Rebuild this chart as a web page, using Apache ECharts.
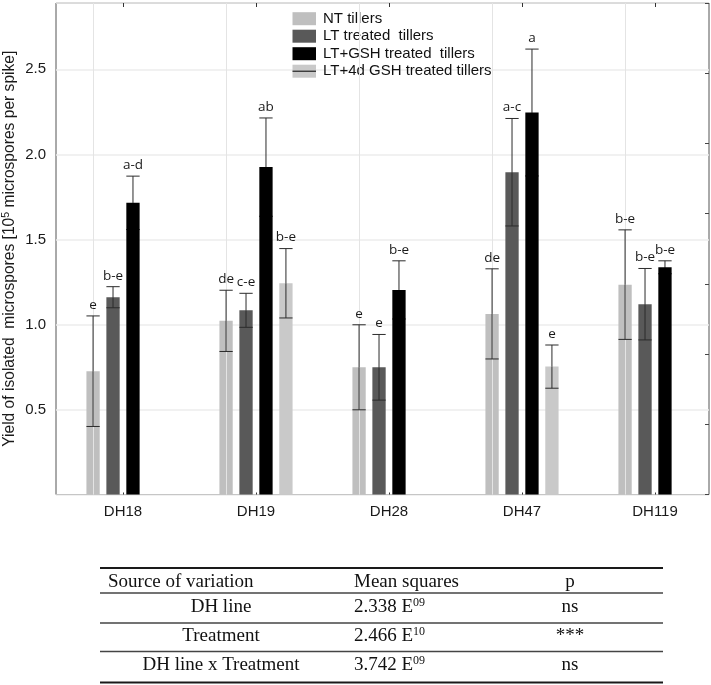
<!DOCTYPE html>
<html><head><meta charset="utf-8">
<script src="https://cdn.jsdelivr.net/npm/echarts/dist/echarts.min.js"></script>
<style>html,body{margin:0;padding:0;background:#fff}#c{width:711px;height:685px}</style>
</head><body><div id="c"></div>
<script>
// ---------- data ----------
const categories = ['DH18', 'DH19', 'DH28', 'DH47', 'DH119'];
const seriesNames = ['NT tillers', 'LT treated  tillers', 'LT+GSH treated  tillers', 'LT+4d GSH treated tillers'];

const ntMeans   = [0.725, 1.021, 0.748, 1.062, 1.234];
const ntErr     = [0.325, 0.180, 0.250, 0.265, 0.322];
const ntLetters = ['e', 'de', 'e', 'de', 'b-e'];

const ltMeans   = [1.160, 1.083, 0.748, 1.895, 1.119];
const ltErr     = [0.062, 0.100, 0.193, 0.316, 0.210];
const ltLetters = ['b-e', 'c-e', 'e', 'a-c', 'b-e'];

const gshMeans   = [1.715, 1.925, 1.203, 2.246, 1.336];
const gshErr     = [0.157, 0.289, 0.171, 0.373, 0.038];
const gshLetters = ['a-d', 'ab', 'b-e', 'a', 'b-e'];

const gsh4dMeans   = [null, 1.242, null, 0.752, null];
const gsh4dErr     = [null, 0.204, null, 0.127, null];
const gsh4dLetters = [null, 'b-e', null, 'e', null];

const yTickLabels = [0.5, 1.0, 1.5, 2.0, 2.5];

const tableHeader   = ['Source of variation', 'Mean squares', 'p'];
const tableSources  = ['DH line', 'Treatment', 'DH line x Treatment'];
const tableMantissa = ['2.338 E', '2.466 E', '3.742 E'];
const tableExponent = ['09', '10', '09'];
const tableP        = ['ns', '***', 'ns'];

// ---------- styling ----------
const colors = ['#bfbfbf', '#595959', '#000000', '#c9c9c9'];
const BAR_W = 13.3, BAR_GAP = 0.5;
const SANS = 'Liberation Sans';
const SERIF = 'Liberation Serif';

const allMeans = [ntMeans, ltMeans, gshMeans, gsh4dMeans];
const allErr = [ntErr, ltErr, gshErr, gsh4dErr];
const allLetters = [ntLetters, ltLetters, gshLetters, gsh4dLetters];

function errorSeries(k) {
  const items = [];
  allMeans[k].forEach((m, i) => {
    if (m != null) items.push({ value: [i, m, allErr[k][i]], letter: allLetters[k][i] });
  });
  return {
    type: 'custom', xAxisIndex: 0, yAxisIndex: 0, z: 5, silent: true,
    encode: { x: 0, y: 1 },
    data: items.map(d => d.value),
    renderItem: function (params, api) {
      const i = api.value(0), m = api.value(1), e = api.value(2);
      const off = (k - 1.5) * BAR_W * (1 + BAR_GAP);
      const x = api.coord([i, m])[0] + off;
      const ym = api.coord([i, m])[1];
      const yt = api.coord([i, m + e])[1];
      const yb = api.coord([i, m - e])[1];
      const h = BAR_W / 2;
      const ls = { stroke: '#2b2b2b', lineWidth: 1 };
      // lower half sits inside the bar; on the black bar it is not distinguishable
      const lsLow = { stroke: k === 2 ? '#000' : '#2b2b2b', lineWidth: 1 };
      return {
        type: 'group',
        children: [
          { type: 'line', shape: { x1: x, y1: yt, x2: x, y2: ym }, style: ls },
          { type: 'line', shape: { x1: x, y1: ym, x2: x, y2: yb }, style: lsLow },
          { type: 'line', shape: { x1: x - h, y1: yt, x2: x + h, y2: yt }, style: ls },
          { type: 'line', shape: { x1: x - h, y1: yb, x2: x + h, y2: yb }, style: lsLow },
          { type: 'text', style: { text: items[params.dataIndex].letter, x: x, y: yt - 4,
              align: 'center', verticalAlign: 'bottom', fontSize: 13.5, fontFamily: 'Open Sans', fill: '#1a1a1a' } }
        ]
      };
    }
  };
}

const barSeries = seriesNames.map((name, k) => {
  const s = {
    type: 'bar', name: name, xAxisIndex: 0, yAxisIndex: 0,
    data: allMeans[k].map(v => v == null ? '-' : v),
    barWidth: BAR_W, barGap: (BAR_GAP * 100) + '%',
    itemStyle: { color: colors[k] }, z: 2
  };
  if (k === 0) {
    s.markLine = {
      silent: true, symbol: ['none', 'none'], label: { show: false },
      lineStyle: { color: '#e4e4e4', type: 'solid', width: 1 },
      data: categories.map(c => ({ xAxis: c }))
    };
  }
  return s;
});

// ---------- table graphics ----------
const T_LEFT = 100, T_RIGHT = 663;
const lineYs = [568, 593, 623, 651.5, 682.5];
const rowYs = [607, 636, 665];
const graphics = [];
lineYs.forEach((y, idx) => {
  const thick = idx === 0 || idx === lineYs.length - 1;
  graphics.push({ type: 'line', silent: true,
    shape: { x1: T_LEFT, y1: y, x2: T_RIGHT, y2: y },
    style: { stroke: thick ? '#1a1a1a' : '#444', lineWidth: thick ? 2 : 1.3 } });
});
const hdrY = 582;
graphics.push({ type: 'text', silent: true, style: { text: tableHeader[0], x: 108, y: hdrY, align: 'left', verticalAlign: 'middle', fontSize: 19, fontFamily: SERIF, fill: '#111' } });
graphics.push({ type: 'text', silent: true, style: { text: tableHeader[1], x: 354, y: hdrY, align: 'left', verticalAlign: 'middle', fontSize: 19, fontFamily: SERIF, fill: '#111' } });
graphics.push({ type: 'text', silent: true, style: { text: tableHeader[2], x: 570, y: hdrY, align: 'center', verticalAlign: 'middle', fontSize: 19, fontFamily: SERIF, fill: '#111' } });
tableSources.forEach((src, r) => {
  const y = rowYs[r];
  graphics.push({ type: 'text', silent: true, style: { text: src, x: 221, y: y, align: 'center', verticalAlign: 'middle', fontSize: 19, fontFamily: SERIF, fill: '#111' } });
  graphics.push({ type: 'text', silent: true, style: {
    text: '{m|' + tableMantissa[r] + '}{e|' + tableExponent[r] + '}', x: 354, y: y, align: 'left', verticalAlign: 'middle',
    rich: { m: { fontSize: 19, fontFamily: SERIF, fill: '#111' }, e: { fontSize: 12, fontFamily: SERIF, fill: '#111', padding: [0, 0, 9, 0] } } } });
  graphics.push({ type: 'text', silent: true, style: { text: tableP[r], x: 570, y: y, align: 'center', verticalAlign: 'middle', fontSize: 19, fontFamily: SERIF, fill: '#111' } });
});
// horizontal bar across the 4th legend swatch
graphics.push({ type: 'line', silent: true, z: 100,
  shape: { x1: 292.5, y1: 71.2, x2: 316, y2: 71.2 }, style: { stroke: '#000', lineWidth: 1 } });

const option = {
  animation: false,
  backgroundColor: '#ffffff',
  legend: {
    data: seriesNames, orient: 'vertical', left: 292.5, top: 11.2, padding: 0,
    icon: 'rect', itemWidth: 23.5, itemHeight: 13, itemGap: 2.5,
    textStyle: { fontSize: 15, lineHeight: 15, color: '#111', fontFamily: SANS, padding: [0, 0, 0, 2] },
    selectedMode: false
  },
  grid: [
    { left: 56.5, top: 3, width: 665, height: 491.5, outerBoundsMode: 'none', containLabel: false },
    { left: 56, top: 3, width: 653, height: 491.5, show: true, borderColor: '#555', borderWidth: 1,
      outerBoundsMode: 'none', containLabel: false }
  ],
  xAxis: [
    { gridIndex: 0, type: 'category', data: categories, position: 'bottom',
      axisLine: { show: false },
      axisTick: { show: true, inside: true, length: 2, alignWithLabel: true, lineStyle: { color: '#333' } },
      axisLabel: { fontSize: 15, color: '#1a1a1a', fontFamily: SANS, margin: 10 },
      splitLine: { show: false } },
    { gridIndex: 0, type: 'category', data: categories, position: 'top',
      axisLine: { show: false },
      axisTick: { show: true, inside: true, length: 4, alignWithLabel: true, lineStyle: { color: '#333' } },
      axisLabel: { show: false }, splitLine: { show: false } },
    { gridIndex: 1, type: 'value', min: 0, max: 1, show: false }
  ],
  yAxis: [
    { gridIndex: 0, type: 'value', min: 0, max: 2.89, show: false },
    { gridIndex: 1, type: 'value', min: 0, max: 2.89, interval: 0.5, position: 'left',
      axisLine: { show: false }, axisTick: { show: false },
      axisLabel: { fontSize: 15, color: '#1a1a1a', fontFamily: SANS, margin: 10,
        formatter: v => yTickLabels.some(t => Math.abs(t - v) < 1e-9) ? v.toFixed(1) : '' },
      splitLine: { show: true, lineStyle: { color: '#ececec', width: 1.5 } },
      name: '{n|Yield of isolated  microspores [10}{s|5}{n| microspores per spike]}',
      nameLocation: 'middle', nameGap: 38, nameMoveOverlap: false,
      nameTextStyle: { rich: {
        n: { fontSize: 15.6, fontFamily: SANS, color: '#1a1a1a' },
        s: { fontSize: 10.5, fontFamily: SANS, color: '#1a1a1a', padding: [0, 0, 6, 0] } } } },
    { gridIndex: 1, type: 'value', min: 0, max: 7, interval: 1, position: 'right',
      axisLine: { show: false },
      axisTick: { show: true, inside: true, length: 4, lineStyle: { color: '#444' } },
      axisLabel: { show: false }, splitLine: { show: false } }
  ],
  series: barSeries.concat([0, 1, 2, 3].map(errorSeries)),
  graphic: graphics
};

const chart = echarts.init(document.getElementById('c'), null, { renderer: 'canvas' });
chart.setOption(option);
</script>
</body></html>
